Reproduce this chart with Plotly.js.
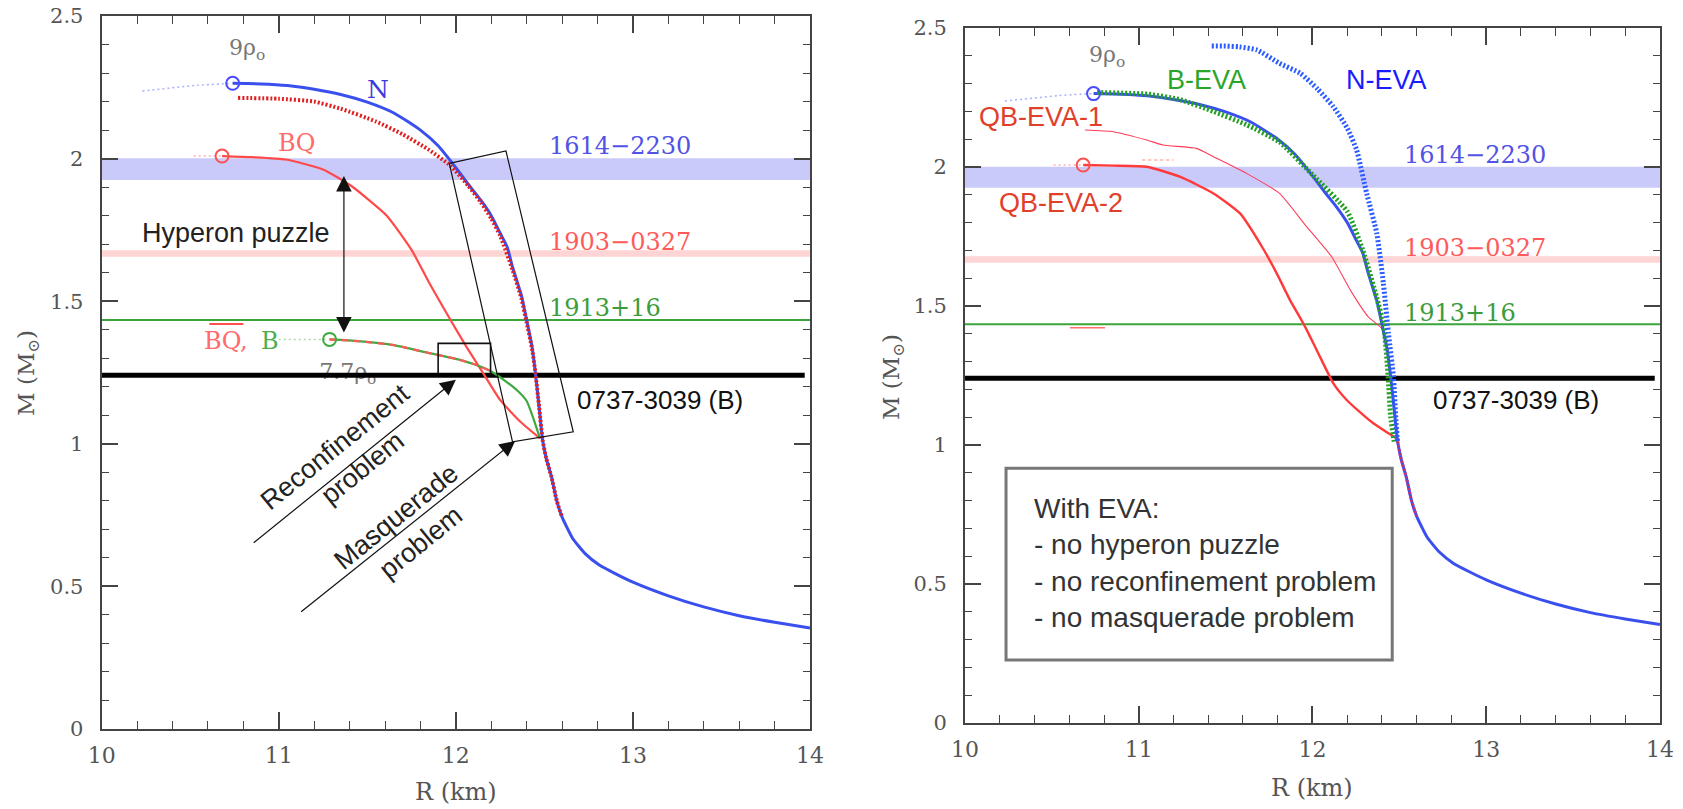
<!DOCTYPE html>
<html><head><meta charset="utf-8">
<script src="https://cdn.plot.ly/plotly-3.0.1.min.js"></script>
<style>html,body{margin:0;padding:0;background:#fff}#chart{width:1683px;height:809px}</style>
</head><body><div id="chart"></div>
<script>
// ---------- axis ticks ----------
const xTicks = [10, 11, 12, 13, 14];
const xTickText = ['10', '11', '12', '13', '14'];
const xMinor = [10.2, 10.4, 10.6, 10.8, 11.2, 11.4, 11.6, 11.8, 12.2, 12.4, 12.6, 12.8, 13.2, 13.4, 13.6, 13.8];
const yTicks = [0, 0.5, 1, 1.5, 2, 2.5];
const yTickText = ['0', '0.5', '1', '1.5', '2', '2.5'];
const yMinor = [0.1, 0.2, 0.3, 0.4, 0.6, 0.7, 0.8, 0.9, 1.1, 1.2, 1.3, 1.4, 1.6, 1.7, 1.8, 1.9, 2.1, 2.2, 2.3, 2.4];

// ---------- pulsar mass bands ----------
const bandName = ['1614−2230', '1903−0327'];
const bandLo = [1.925, 1.656];
const bandHi = [2.001, 1.679];
const psr1913 = 1.434;   // 1913+16
const psr0737 = 1.24;    // 0737-3039 (B)

// ---------- N (nucleonic) curve, both panels ----------
const nR = [10.74, 10.9, 11.05, 11.2, 11.35, 11.5, 11.65, 11.8, 11.9, 12.0, 12.07, 12.14, 12.2, 12.25, 12.29, 12.32, 12.37, 12.40, 12.43, 12.45, 12.47, 12.49, 12.51, 12.54, 12.57, 12.60, 12.66, 12.73, 12.81, 12.9, 13.0, 13.2, 13.4, 13.6, 13.8, 14.0];
const nM = [2.264, 2.262, 2.256, 2.243, 2.225, 2.198, 2.16, 2.1, 2.045, 1.968, 1.91, 1.855, 1.80, 1.739, 1.69, 1.62, 1.52, 1.434, 1.34, 1.245, 1.13, 1.013, 0.95, 0.884, 0.80, 0.743, 0.668, 0.615, 0.575, 0.545, 0.515, 0.467, 0.428, 0.397, 0.374, 0.354];
const nExtR = [10.23, 10.54, 10.74];
const nExtM = [2.237, 2.257, 2.264];

// ---------- left panel ----------
const redDotR = [10.77, 11.0, 11.2, 11.35, 11.55, 11.7, 11.85, 11.97, 12.07, 12.14, 12.2, 12.25, 12.32, 12.37, 12.40, 12.43, 12.45, 12.47, 12.49, 12.51, 12.54, 12.57, 12.60];
const redDotM = [2.213, 2.21, 2.20, 2.175, 2.13, 2.085, 2.03, 1.975, 1.905, 1.848, 1.79, 1.73, 1.61, 1.51, 1.425, 1.335, 1.245, 1.13, 1.013, 0.95, 0.884, 0.80, 0.743];
const bqR = [10.68, 10.85, 11.04, 11.25, 11.41, 11.61, 11.75, 11.85, 11.97, 12.06, 12.155, 12.25, 12.36, 12.475];
const bqM = [2.009, 2.005, 1.997, 1.962, 1.904, 1.80, 1.68, 1.564, 1.434, 1.34, 1.247, 1.154, 1.08, 1.019];
const bqExtR = [10.52, 10.68];
const bqExtM = [2.009, 2.009];
const bR = [11.287, 11.45, 11.65, 11.85, 12.0, 12.1, 12.19, 12.28, 12.35, 12.40, 12.44, 12.475];
const bM = [1.366, 1.36, 1.346, 1.318, 1.298, 1.28, 1.257, 1.22, 1.185, 1.15, 1.085, 1.019];
const bqbarR = [11.287, 11.45, 11.65, 11.85, 12.0, 12.1, 12.19];
const bqbarM = [1.366, 1.36, 1.346, 1.318, 1.298, 1.28, 1.257];
const bExtR = [11.0, 11.287];
const bExtM = [1.366, 1.366];
const tiltBoxR = [11.963, 12.283, 12.663, 12.32, 11.963];
const tiltBoxM = [1.983, 2.027, 1.042, 1.007, 1.983];
const smallBoxR = [11.90, 11.90, 12.196, 12.196];
const smallBoxM = [1.245, 1.352, 1.352, 1.245];

// ---------- right panel ----------
const bevaR = [10.76, 11.05, 11.24, 11.43, 11.62, 11.81, 12.0, 12.2, 12.29, 12.37, 12.41, 12.435, 12.45, 12.47];
const bevaM = [2.268, 2.262, 2.242, 2.2, 2.152, 2.09, 1.972, 1.84, 1.70, 1.53, 1.43, 1.25, 1.1, 1.012];
const nevaR = [11.42, 11.5, 11.58, 11.68, 11.81, 11.93, 12.03, 12.12, 12.2, 12.254, 12.312, 12.37, 12.408, 12.437, 12.466, 12.48, 12.49];
const nevaM = [2.435, 2.435, 2.432, 2.421, 2.373, 2.337, 2.28, 2.217, 2.14, 2.061, 1.905, 1.762, 1.582, 1.402, 1.246, 1.09, 1.007];
const qb2R = [10.68, 10.85, 11.046, 11.237, 11.43, 11.583, 11.717, 11.80, 11.87, 11.957, 12.024, 12.12, 12.197, 12.27, 12.35, 12.43, 12.50];
const qb2M = [2.007, 2.005, 2.001, 1.965, 1.905, 1.833, 1.705, 1.61, 1.522, 1.426, 1.342, 1.222, 1.162, 1.12, 1.078, 1.045, 1.018];
const qb1R = [10.69, 10.854, 11.046, 11.14, 11.333, 11.43, 11.62, 11.81, 11.96, 12.11, 12.225, 12.32, 12.4, 12.44];
const qb1M = [2.133, 2.127, 2.097, 2.079, 2.067, 2.037, 1.977, 1.905, 1.79, 1.677, 1.55, 1.462, 1.418, 1.33];
const qb2ExtR = [10.51, 10.68];
const qb2ExtM = [2.007, 2.007];
const tailR = [12.49, 12.51, 12.54, 12.57, 12.60];
const tailM = [1.013, 0.95, 0.884, 0.80, 0.743];

const SERIF = 'DejaVu Serif, serif';
const SANS = 'Liberation Sans, Arial, sans-serif';

const traces = [];
function addLine(xa, ya, xs, ys, color, width, dash, shape) {
  traces.push({type: 'scatter', mode: 'lines', x: xs, y: ys, xaxis: xa, yaxis: ya,
    line: {color: color, width: width, dash: dash || 'solid', shape: shape || 'spline', smoothing: 0.5},
    hoverinfo: 'skip', showlegend: false});
}
function addCircle(xa, ya, x, y, color) {
  traces.push({type: 'scatter', mode: 'markers', x: [x], y: [y], xaxis: xa, yaxis: ya,
    marker: {symbol: 'circle-open', size: 13, color: color, line: {width: 2, color: color}},
    hoverinfo: 'skip', showlegend: false});
}

const bandFill = ['rgba(150,150,245,0.5)', 'rgba(255,170,170,0.5)'];
[['x', 'y'], ['x2', 'y2']].forEach(function (ax) {
  for (let i = 0; i < bandName.length; i++) {
    traces.push({type: 'scatter', mode: 'lines', x: [xTicks[0], xTicks[4], xTicks[4], xTicks[0]],
      y: [bandLo[i], bandLo[i], bandHi[i], bandHi[i]], xaxis: ax[0], yaxis: ax[1], fill: 'toself',
      fillcolor: bandFill[i], line: {width: 0}, hoverinfo: 'skip', showlegend: false});
  }
  addLine(ax[0], ax[1], [xTicks[0], xTicks[4]], [psr1913, psr1913], '#3aa53a', 2, 'solid', 'linear');
});

// left panel: 7.7 rho label, partly covered by the black line
traces.push({type: 'scatter', mode: 'text', x: [11.39], y: [1.245], xaxis: 'x', yaxis: 'y',
  text: ['7.7ρ<sub>o</sub>'], textfont: {family: SERIF, size: 22, color: '#777'}, hoverinfo: 'skip', showlegend: false});
addLine('x', 'y', [10, 13.97], [psr0737, psr0737], '#000', 5, 'solid', 'linear');
addLine('x2', 'y2', [10, 13.97], [psr0737, psr0737], '#000', 5, 'solid', 'linear');

// left curves
addLine('x', 'y', nExtR, nExtM, '#aab0ff', 1.5, '2px,3px');
addLine('x', 'y', bqExtR, bqExtM, '#ffb0b0', 1.5, '2px,3px');
addLine('x', 'y', bExtR, bExtM, '#a8d8a8', 1.5, '2px,3px');
addLine('x', 'y', bqR, bqM, '#ff4a4a', 2.2);
addLine('x', 'y', bR, bM, '#3fa83f', 2.2);
addLine('x', 'y', bqbarR, bqbarM, '#ff5a5a', 2.2, '7px,5px');
addLine('x', 'y', nR, nM, '#3a50ee', 3);
addLine('x', 'y', redDotR, redDotM, '#e02020', 4, '2px,2px');
addLine('x', 'y', tiltBoxR, tiltBoxM, '#111', 1.2, 'solid', 'linear');
addLine('x', 'y', smallBoxR, smallBoxM, '#111', 1.6, 'solid', 'linear');
addCircle('x', 'y', nR[0], nM[0], '#4a4aff');
addCircle('x', 'y', bqR[0], bqM[0], '#ff5050');
addCircle('x', 'y', bR[0], bM[0], '#3fa83f');

// right curves
addLine('x2', 'y2', nExtR, nExtM, '#aab0ff', 1.5, '2px,3px');
addLine('x2', 'y2', qb2ExtR, qb2ExtM, '#ffb0b0', 1.5, '2px,3px');
addLine('x2', 'y2', qb2R, qb2M, '#ff3a3a', 2.4);
addLine('x2', 'y2', qb1R, qb1M, '#ff3d5a', 1.1);
addLine('x2', 'y2', nR, nM, '#3a50ee', 3);
addLine('x2', 'y2', bevaR, bevaM, '#22a022', 5, '2px,2px');
addLine('x2', 'y2', nevaR, nevaM, '#2a5cff', 5, '2px,2px');
addLine('x2', 'y2', tailR, tailM, '#d03070', 3, '2px,2px');
addCircle('x2', 'y2', nR[0], nM[0], '#4a4aff');
addCircle('x2', 'y2', qb2R[0], qb2M[0], '#ff5050');

// ---------- annotations ----------
const annotations = [];
function txt(xr, yr, x, y, text, font, extra) {
  annotations.push(Object.assign({xref: xr, yref: yr, x: x, y: y, text: text, showarrow: false, font: font,
    xanchor: 'center', yanchor: 'middle'}, extra || {}));
}
const serifLbl = function (c, s) { return {family: SERIF, size: s || 24, color: c}; };
const sansLbl = function (c, s) { return {family: SANS, size: s || 27, color: c}; };

[['x', 'y'], ['x2', 'y2']].forEach(function (ax, k) {
  txt(ax[0], ax[1], 12.513, 2.043, bandName[0], serifLbl('#5252e6'), {xanchor: 'left'});
  txt(ax[0], ax[1], 12.513, 1.709, bandName[1], serifLbl('#ff5a5a'), {xanchor: 'left'});
  txt(ax[0], ax[1], 12.513, 1.476, '1913+16', serifLbl('#3c9c3c'), {xanchor: 'left'});
  txt(ax[0], ax[1], k === 0 ? 12.673 : 12.68, k === 0 ? 1.154 : 1.162, '0737-3039 (B)', sansLbl('#111', 26), {xanchor: 'left'});
  txt(ax[0], ax[1], k === 0 ? 10.82 : 10.815, k === 0 ? 2.383 : 2.397, '9ρ<sub>o</sub>', serifLbl('#777', 22));
  txt(ax[0], 'paper', 12, k === 0 ? 0.021 : 0.026, 'R (km)', serifLbl('#555', 24));
});
txt('paper', 'paper', 0.0166, 0.539, 'M (M<sub>⊙</sub>)', serifLbl('#555', 23), {textangle: -90});
txt('paper', 'paper', 0.5306, 0.534, 'M (M<sub>⊙</sub>)', serifLbl('#555', 23), {textangle: -90});

// left labels
txt('x', 'y', 11.56, 2.243, 'N', serifLbl('#3b3bdd', 25));
txt('x', 'y', 11.10, 2.056, 'BQ', serifLbl('#ff6a6a', 24));
txt('x', 'y', 10.70, 1.362, 'BQ,', serifLbl('#ff6a6a', 24));
txt('x', 'y', 10.952, 1.36, 'B', serifLbl('#4caf50', 24));
txt('x', 'y', 10.76, 1.74, 'Hyperon puzzle', sansLbl('#222', 27));
txt('x', 'y', 11.317, 0.989, 'Reconfinement', sansLbl('#222', 27), {textangle: -39});
txt('x', 'y', 11.473, 0.914, 'problem', sansLbl('#222', 27), {textangle: -39});
txt('x', 'y', 11.66, 0.744, 'Masquerade', sansLbl('#222', 27), {textangle: -39});
txt('x', 'y', 11.805, 0.655, 'problem', sansLbl('#222', 27), {textangle: -39});

function arrow(x, y, ax, ay, both) {
  annotations.push({xref: 'x', yref: 'y', axref: 'x', ayref: 'y', x: x, y: y, ax: ax, ay: ay, text: '',
    showarrow: true, arrowhead: 2, arrowsize: 2.6, arrowwidth: 1.2, arrowcolor: '#111',
    arrowside: both ? 'end+start' : 'end', startarrowhead: 2, startarrowsize: 2.6, standoff: 0, startstandoff: 0});
}
arrow(11.368, 1.939, 11.368, 1.385, true);
arrow(12.0, 1.225, 10.85, 0.649, false);
arrow(12.335, 1.01, 11.118, 0.407, false);

// right labels
txt('x2', 'y2', 11.391, 2.313, 'B-EVA', sansLbl('#2aa52a'));
txt('x2', 'y2', 12.427, 2.313, 'N-EVA', sansLbl('#1a1aff'));
txt('x2', 'y2', 10.436, 2.181, 'QB-EVA-1', sansLbl('#e0402a'));
txt('x2', 'y2', 10.552, 1.869, 'QB-EVA-2', sansLbl('#e0402a'));
txt('x2', 'y2', 10.384, 0.577, 'With EVA:<br>- no hyperon puzzle<br>- no reconfinement problem<br>- no masquerade problem',
  sansLbl('#333', 28), {xanchor: 'left', yanchor: 'middle', align: 'left'});

const shapes = [
  {type: 'line', xref: 'x', yref: 'y', x0: 10.608, x1: 10.80, y0: 1.4205, y1: 1.4205, line: {color: '#ff5050', width: 2}},
  {type: 'rect', xref: 'x2', yref: 'y2', x0: 10.236, x1: 12.459, y0: 0.227, y1: 0.916, line: {color: '#777', width: 3}},
  {type: 'line', xref: 'x2', yref: 'y2', x0: 10.604, x1: 10.806, y0: 1.422, y1: 1.422, line: {color: '#ff7070', width: 1.5}},
  {type: 'line', xref: 'x2', yref: 'y2', x0: 11.02, x1: 11.2, y0: 2.025, y1: 2.025, line: {color: '#ffb0a0', width: 1.5, dash: 'dot'}}
];

function axisX(domain, anchor) {
  return {domain: domain, anchor: anchor, range: [10, 14], tickmode: 'array', tickvals: xTicks, ticktext: xTickText,
    ticks: 'inside', ticklen: 17, tickwidth: 1.6, tickcolor: '#444', mirror: 'allticks',
    minor: {tickmode: 'array', tickvals: xMinor, ticks: 'inside', ticklen: 8, tickwidth: 1.4, tickcolor: '#444'},
    showline: true, linecolor: '#444', linewidth: 2, showgrid: false, zeroline: false,
    tickfont: {family: SERIF, size: 22, color: '#555'}, ticklabelstandoff: 6};
}
function axisY(domain, anchor) {
  return {domain: domain, anchor: anchor, range: [0, 2.5], tickmode: 'array', tickvals: yTicks, ticktext: yTickText,
    ticks: 'inside', ticklen: 16, tickwidth: 1.6, tickcolor: '#444', mirror: 'allticks',
    minor: {tickmode: 'array', tickvals: yMinor, ticks: 'inside', ticklen: 7, tickwidth: 1.4, tickcolor: '#444'},
    showline: true, linecolor: '#444', linewidth: 2, showgrid: false, zeroline: false,
    tickfont: {family: SERIF, size: 21, color: '#555'}, ticklabelstandoff: 12};
}

const layout = {
  width: 1683, height: 809, margin: {l: 0, r: 0, t: 0, b: 0},
  paper_bgcolor: '#fff', plot_bgcolor: '#fff', showlegend: false,
  xaxis: axisX([0.0604, 0.4813], 'y'),
  yaxis: axisY([0.0989, 0.9802], 'x'),
  xaxis2: axisX([0.5734, 0.9863], 'y2'),
  yaxis2: axisY([0.1063, 0.9654], 'x2'),
  shapes: shapes, annotations: annotations
};
Plotly.newPlot('chart', traces, layout, {displayModeBar: false});
</script>
</body></html>
